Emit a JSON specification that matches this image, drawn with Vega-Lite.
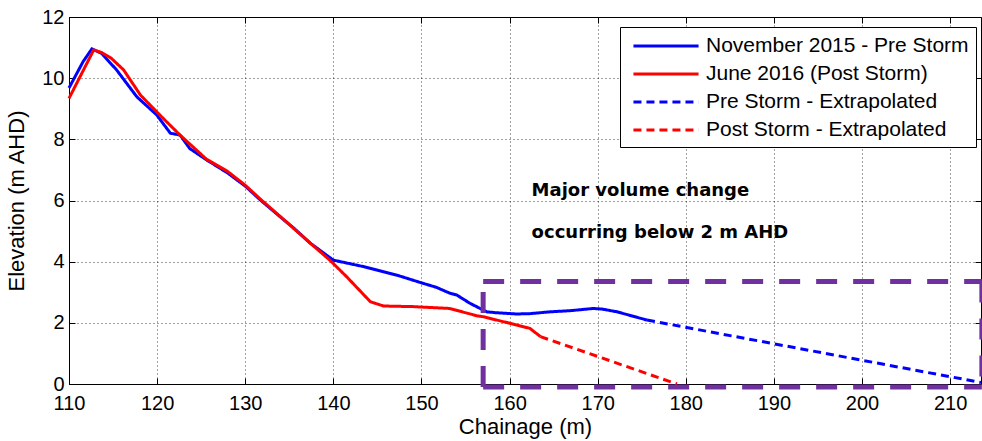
{
  "$schema": "https://vega.github.io/schema/vega-lite/v6.json",
  "width": 912,
  "height": 367,
  "autosize": "none",
  "padding": {"left": 69, "top": 17, "right": 1, "bottom": 57},
  "background": "white",
  "resolve": {"axis": {"x": "independent", "y": "independent"}},
  "config": {
    "view": {"stroke": "black", "strokeWidth": 1},
    "font": "Liberation Sans",
    "axis": {
      "domainColor": "black",
      "tickColor": "black",
      "labelColor": "black",
      "titleColor": "black",
      "labelFont": "Liberation Sans",
      "titleFont": "Liberation Sans",
      "labelFontSize": 20,
      "titleFontSize": 22,
      "titleFontWeight": "normal",
      "gridColor": "black",
      "gridDash": [1, 3],
      "gridOpacity": 0.75,
      "tickSize": -6,
      "labelPadding": 11,
      "labelFlush": false
    }
  },
  "datasets": {
    "profiles": [
      {"series": "November 2015 - Pre Storm", "x": 110.0, "y": 9.68},
      {"series": "November 2015 - Pre Storm", "x": 111.6, "y": 10.54},
      {"series": "November 2015 - Pre Storm", "x": 112.6, "y": 10.96},
      {"series": "November 2015 - Pre Storm", "x": 113.7, "y": 10.81},
      {"series": "November 2015 - Pre Storm", "x": 115.4, "y": 10.27},
      {"series": "November 2015 - Pre Storm", "x": 117.7, "y": 9.39},
      {"series": "November 2015 - Pre Storm", "x": 119.95, "y": 8.8},
      {"series": "November 2015 - Pre Storm", "x": 121.5, "y": 8.2},
      {"series": "November 2015 - Pre Storm", "x": 122.6, "y": 8.14},
      {"series": "November 2015 - Pre Storm", "x": 123.7, "y": 7.7},
      {"series": "November 2015 - Pre Storm", "x": 125.6, "y": 7.33},
      {"series": "November 2015 - Pre Storm", "x": 128.0, "y": 6.9},
      {"series": "November 2015 - Pre Storm", "x": 130.0, "y": 6.47},
      {"series": "November 2015 - Pre Storm", "x": 131.7, "y": 6.02},
      {"series": "November 2015 - Pre Storm", "x": 133.95, "y": 5.47},
      {"series": "November 2015 - Pre Storm", "x": 135.5, "y": 5.1},
      {"series": "November 2015 - Pre Storm", "x": 137.4, "y": 4.6},
      {"series": "November 2015 - Pre Storm", "x": 140.0, "y": 4.05},
      {"series": "November 2015 - Pre Storm", "x": 143.4, "y": 3.84},
      {"series": "November 2015 - Pre Storm", "x": 147.2, "y": 3.56},
      {"series": "November 2015 - Pre Storm", "x": 150.2, "y": 3.29},
      {"series": "November 2015 - Pre Storm", "x": 151.7, "y": 3.16},
      {"series": "November 2015 - Pre Storm", "x": 153.2, "y": 2.97},
      {"series": "November 2015 - Pre Storm", "x": 154.0, "y": 2.91},
      {"series": "November 2015 - Pre Storm", "x": 155.5, "y": 2.64},
      {"series": "November 2015 - Pre Storm", "x": 157.4, "y": 2.36},
      {"series": "November 2015 - Pre Storm", "x": 158.5, "y": 2.33},
      {"series": "November 2015 - Pre Storm", "x": 160.8, "y": 2.29},
      {"series": "November 2015 - Pre Storm", "x": 162.3, "y": 2.3},
      {"series": "November 2015 - Pre Storm", "x": 164.6, "y": 2.36},
      {"series": "November 2015 - Pre Storm", "x": 167.0, "y": 2.4},
      {"series": "November 2015 - Pre Storm", "x": 169.5, "y": 2.47},
      {"series": "November 2015 - Pre Storm", "x": 170.5, "y": 2.45},
      {"series": "November 2015 - Pre Storm", "x": 172.2, "y": 2.36},
      {"series": "November 2015 - Pre Storm", "x": 175.6, "y": 2.09},
      {"series": "June 2016 (Post Storm)", "x": 110.0, "y": 9.34},
      {"series": "June 2016 (Post Storm)", "x": 112.8, "y": 10.92},
      {"series": "June 2016 (Post Storm)", "x": 113.7, "y": 10.84},
      {"series": "June 2016 (Post Storm)", "x": 114.8, "y": 10.65},
      {"series": "June 2016 (Post Storm)", "x": 116.2, "y": 10.27},
      {"series": "June 2016 (Post Storm)", "x": 118.1, "y": 9.45},
      {"series": "June 2016 (Post Storm)", "x": 120.5, "y": 8.74},
      {"series": "June 2016 (Post Storm)", "x": 122.6, "y": 8.14},
      {"series": "June 2016 (Post Storm)", "x": 125.6, "y": 7.35},
      {"series": "June 2016 (Post Storm)", "x": 128.0, "y": 6.95},
      {"series": "June 2016 (Post Storm)", "x": 130.0, "y": 6.5},
      {"series": "June 2016 (Post Storm)", "x": 131.7, "y": 6.05},
      {"series": "June 2016 (Post Storm)", "x": 134.0, "y": 5.47},
      {"series": "June 2016 (Post Storm)", "x": 137.4, "y": 4.6},
      {"series": "June 2016 (Post Storm)", "x": 139.6, "y": 4.05},
      {"series": "June 2016 (Post Storm)", "x": 141.5, "y": 3.51},
      {"series": "June 2016 (Post Storm)", "x": 144.2, "y": 2.69},
      {"series": "June 2016 (Post Storm)", "x": 145.7, "y": 2.55},
      {"series": "June 2016 (Post Storm)", "x": 149.1, "y": 2.53},
      {"series": "June 2016 (Post Storm)", "x": 153.2, "y": 2.47},
      {"series": "June 2016 (Post Storm)", "x": 156.3, "y": 2.23},
      {"series": "June 2016 (Post Storm)", "x": 157.0, "y": 2.2},
      {"series": "June 2016 (Post Storm)", "x": 160.1, "y": 1.98},
      {"series": "June 2016 (Post Storm)", "x": 162.3, "y": 1.82},
      {"series": "June 2016 (Post Storm)", "x": 163.5, "y": 1.55},
      {"series": "Pre Storm - Extrapolated", "x": 175.6, "y": 2.09},
      {"series": "Pre Storm - Extrapolated", "x": 213.5, "y": 0.05},
      {"series": "Post Storm - Extrapolated", "x": 163.5, "y": 1.55},
      {"series": "Post Storm - Extrapolated", "x": 179.0, "y": 0.0}
    ],
    "box": [
      {"xa": 157.0, "ya": -0.1, "xb": 157.0, "yb": 3.35},
      {"xa": 157.0, "ya": 3.35, "xb": 213.6, "yb": 3.35},
      {"xa": 213.6, "ya": 3.35, "xb": 213.6, "yb": -0.1},
      {"xa": 157.0, "ya": -0.1, "xb": 213.6, "yb": -0.1}
    ],
    "notes": [
      {"label": "Major volume change", "x": 162.5, "y": 6.15},
      {"label": "occurring below 2 m AHD", "x": 162.5, "y": 4.77}
    ]
  },
  "layer": [
    {
      "data": {"name": "profiles"},
      "mark": {"type": "line", "strokeCap": "butt"},
      "encoding": {
        "x": {
          "field": "x", "type": "quantitative",
          "scale": {"domain": [110, 213.5], "nice": false, "zero": false},
          "axis": {"title": "Chainage (m)", "values": [110, 120, 130, 140, 150, 160, 170, 180, 190, 200, 210], "grid": true, "labelPadding": 15, "titlePadding": 3}
        },
        "y": {
          "field": "y", "type": "quantitative",
          "scale": {"domain": [0, 12], "nice": false},
          "axis": {"title": "Elevation (m AHD)", "values": [0, 2, 4, 6, 8, 10, 12], "grid": true, "titlePadding": 13}
        },
        "color": {
          "field": "series", "type": "nominal",
          "scale": {
            "domain": ["November 2015 - Pre Storm", "June 2016 (Post Storm)", "Pre Storm - Extrapolated", "Post Storm - Extrapolated"],
            "range": ["#0000ff", "#ff0000", "#0000ff", "#ff0000"]
          },
          "legend": {
            "title": null,
            "orient": "none",
            "legendX": 551,
            "legendY": 10,
            "fillColor": "white",
            "strokeColor": "black",
            "padding": 7,
            "labelFontSize": 21,
            "labelFont": "Liberation Sans",
            "labelColor": "black",
            "labelLimit": 500,
            "symbolType": "M-3.1,0H3.1",
            "symbolSize": 441,
            "symbolStrokeWidth": 3,
            "symbolOffset": 27,
            "rowPadding": 6,
            "labelOffset": 28
          }
        },
        "strokeDash": {
          "field": "series", "type": "nominal",
          "scale": {
            "domain": ["November 2015 - Pre Storm", "June 2016 (Post Storm)", "Pre Storm - Extrapolated", "Post Storm - Extrapolated"],
            "range": [[1, 0], [1, 0], [8, 5], [8, 5]]
          },
          "legend": {"title": null}
        },
        "strokeWidth": {
          "field": "series", "type": "nominal",
          "scale": {
            "domain": ["November 2015 - Pre Storm", "June 2016 (Post Storm)", "Pre Storm - Extrapolated", "Post Storm - Extrapolated"],
            "range": [3, 3, 4, 2]
          },
          "legend": null
        }
      }
    },
    {
      "data": {"name": "box"},
      "mark": {"type": "rule", "color": "#7030a0", "strokeWidth": 5, "strokeDash": [21, 16]},
      "encoding": {
        "x": {"field": "xa", "type": "quantitative", "axis": null},
        "y": {"field": "ya", "type": "quantitative", "axis": null},
        "x2": {"field": "xb"},
        "y2": {"field": "yb"}
      }
    },
    {
      "data": {"name": "notes"},
      "mark": {"type": "text", "font": "DejaVu Sans", "fontWeight": "bold", "fontSize": 18, "align": "left", "baseline": "alphabetic", "color": "black"},
      "encoding": {
        "x": {
          "field": "x", "type": "quantitative",
          "axis": {"orient": "top", "values": [110, 120, 130, 140, 150, 160, 170, 180, 190, 200, 210], "labels": false, "title": null, "grid": false, "domain": false}
        },
        "y": {
          "field": "y", "type": "quantitative",
          "axis": {"orient": "right", "values": [0, 2, 4, 6, 8, 10, 12], "labels": false, "title": null, "grid": false, "domain": false}
        },
        "text": {"field": "label"}
      }
    }
  ]
}
